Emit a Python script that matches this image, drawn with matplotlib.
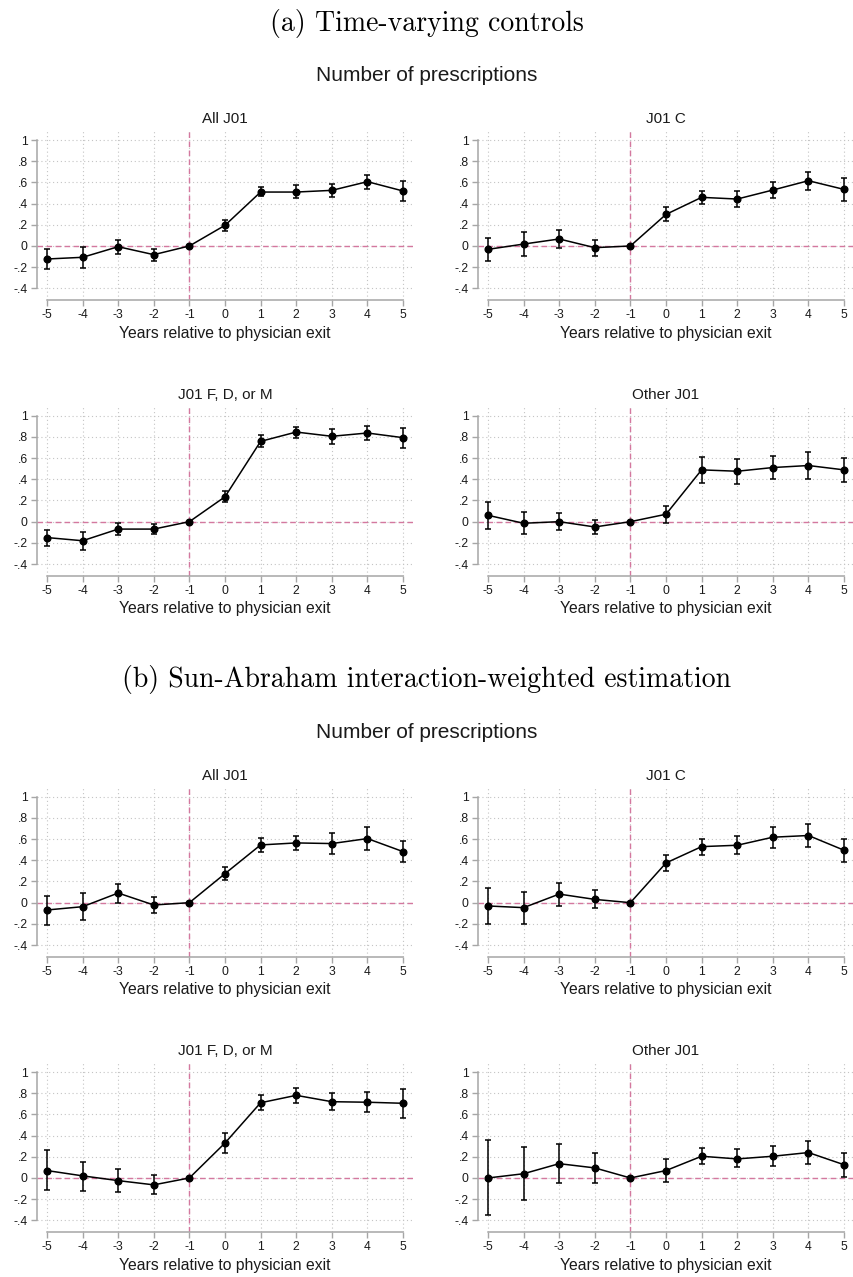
import matplotlib
matplotlib.use('Agg')
import matplotlib.pyplot as plt
import numpy as np

# ---------------- data ----------------
years = [-5, -4, -3, -2, -1, 0, 1, 2, 3, 4, 5]
xtick_labels = ['-5', '-4', '-3', '-2', '-1', '0', '1', '2', '3', '4', '5']
ytick_vals = [-0.4, -0.2, 0, 0.2, 0.4, 0.6, 0.8, 1]
ytick_labels = ['-.4', '-.2', '0', '.2', '.4', '.6', '.8', '1']
panel_titles = ['All J01', 'J01 C', 'J01 F, D, or M', 'Other J01']
section_titles = ['(a) Time-varying controls',
                  '(b) Sun-Abraham interaction-weighted estimation']
subtitle = 'Number of prescriptions'
xlabel_text = 'Years relative to physician exit'
nan = np.nan

# (a) Time-varying controls
a_all_est = [-0.123, -0.107, -0.007, -0.082, 0.0, 0.195, 0.509, 0.509, 0.525, 0.607, 0.519]
a_all_hi  = [-0.029, -0.010, 0.059, -0.026, nan, 0.248, 0.556, 0.575, 0.588, 0.673, 0.610]
a_all_lo  = [-0.221, -0.205, -0.079, -0.142, nan, 0.141, 0.468, 0.449, 0.465, 0.538, 0.424]

a_c_est = [-0.032, 0.018, 0.066, -0.016, 0.0, 0.298, 0.459, 0.443, 0.528, 0.616, 0.534]
a_c_hi  = [0.078, 0.129, 0.151, 0.056, nan, 0.364, 0.522, 0.522, 0.607, 0.701, 0.644]
a_c_lo  = [-0.145, -0.095, -0.022, -0.092, nan, 0.236, 0.396, 0.364, 0.449, 0.528, 0.427]

a_fdm_est = [-0.150, -0.180, -0.070, -0.070, 0.0, 0.235, 0.758, 0.846, 0.806, 0.837, 0.793]
a_fdm_hi  = [-0.075, -0.095, -0.010, -0.025, nan, 0.285, 0.815, 0.896, 0.875, 0.906, 0.887]
a_fdm_lo  = [-0.225, -0.265, -0.130, -0.120, nan, 0.184, 0.702, 0.793, 0.733, 0.768, 0.696]

a_oth_est = [0.060, -0.015, 0.000, -0.050, 0.0, 0.070, 0.489, 0.476, 0.511, 0.530, 0.489]
a_oth_hi  = [0.188, 0.090, 0.080, 0.020, nan, 0.150, 0.608, 0.589, 0.624, 0.655, 0.599]
a_oth_lo  = [-0.065, -0.115, -0.080, -0.120, nan, -0.010, 0.369, 0.360, 0.401, 0.404, 0.379]

# (b) Sun-Abraham interaction-weighted estimation
b_all_est = [-0.069, -0.038, 0.091, -0.022, 0.0, 0.274, 0.545, 0.564, 0.558, 0.605, 0.482]
b_all_hi  = [0.066, 0.094, 0.180, 0.056, nan, 0.337, 0.615, 0.631, 0.653, 0.716, 0.583]
b_all_lo  = [-0.209, -0.166, -0.006, -0.100, nan, 0.210, 0.476, 0.495, 0.463, 0.498, 0.381]

b_c_est = [-0.031, -0.047, 0.081, 0.031, 0.0, 0.375, 0.529, 0.542, 0.618, 0.634, 0.495]
b_c_hi  = [0.141, 0.103, 0.190, 0.119, nan, 0.451, 0.602, 0.631, 0.719, 0.744, 0.599]
b_c_lo  = [-0.203, -0.197, -0.031, -0.053, nan, 0.302, 0.451, 0.457, 0.514, 0.526, 0.387]

b_fdm_est = [0.070, 0.020, -0.025, -0.065, 0.0, 0.330, 0.710, 0.780, 0.720, 0.715, 0.705]
b_fdm_hi  = [0.260, 0.150, 0.080, 0.030, nan, 0.420, 0.780, 0.850, 0.800, 0.810, 0.840]
b_fdm_lo  = [-0.110, -0.120, -0.130, -0.150, nan, 0.240, 0.640, 0.710, 0.640, 0.620, 0.570]

b_oth_est = [0.000, 0.040, 0.135, 0.095, 0.0, 0.070, 0.205, 0.180, 0.205, 0.240, 0.125]
b_oth_hi  = [0.360, 0.290, 0.320, 0.240, nan, 0.180, 0.280, 0.270, 0.300, 0.350, 0.240]
b_oth_lo  = [-0.350, -0.210, -0.050, -0.050, nan, -0.040, 0.130, 0.100, 0.110, 0.130, 0.010]

sections = [
    [(a_all_est, a_all_lo, a_all_hi), (a_c_est, a_c_lo, a_c_hi),
     (a_fdm_est, a_fdm_lo, a_fdm_hi), (a_oth_est, a_oth_lo, a_oth_hi)],
    [(b_all_est, b_all_lo, b_all_hi), (b_c_est, b_c_lo, b_c_hi),
     (b_fdm_est, b_fdm_lo, b_fdm_hi), (b_oth_est, b_oth_lo, b_oth_hi)],
]

# ---------------- layout / style ----------------
W, H = 854, 1277
fig = plt.figure(figsize=(W / 100, H / 100), dpi=100)
fig.patch.set_facecolor('white')

SANS = 'Liberation Sans'
SERIF = ['cmr10', 'DejaVu Serif']
PINK = '#d4789f'
SPINE = '#a6a6a6'
GRID = '#c4c4c4'
TXT = '#1a1a1a'

col_left = [37, 478]
ax_w = 376
ax_h = 169.5
row_top = [[130.5, 406.2], [787.2, 1062.5]]
section_title_y = [24, 680]
subtitle_y = [75.3, 732]

for s in range(2):
    fig.text(0.5, 1 - section_title_y[s] / H, section_titles[s], ha='center', va='center',
             fontsize=20, family=SERIF, color='black')
    fig.text(0.5, 1 - subtitle_y[s] / H, subtitle, ha='center', va='center',
             fontsize=15, family=SANS, color=TXT)
    for p in range(4):
        r, c = divmod(p, 2)
        top = row_top[s][r]
        ax = fig.add_axes([col_left[c] / W, 1 - (top + ax_h) / H, ax_w / W, ax_h / H])
        est, lo, hi = (np.array(v, dtype=float) for v in sections[s][p])
        x = np.array(years, dtype=float)
        ax.set_xlim(-5.28, 5.28)
        ax.set_ylim(-0.51, 1.09)
        ax.set_xticks(years)
        ax.set_xticklabels(xtick_labels)
        ax.set_yticks(ytick_vals)
        ax.set_yticklabels(ytick_labels)
        ax.grid(True, linestyle=(0, (1, 2.5)), color=GRID, linewidth=0.8)
        ax.set_axisbelow(True)
        ax.axhline(0, color=PINK, linestyle=(0, (4, 2.5)), linewidth=1.0, zorder=1)
        ax.axvline(-1, color=PINK, linestyle=(0, (4, 2.5)), linewidth=1.0, zorder=1)
        m = ~np.isnan(lo)
        ax.errorbar(x[m], est[m], yerr=[est[m] - lo[m], hi[m] - est[m]], fmt='none',
                    ecolor='black', elinewidth=1.1, capsize=2.1, capthick=1.1, zorder=3)
        ax.plot(x, est, color='black', linewidth=1.1, marker='o', markersize=4.8, zorder=4)
        for side in ['top', 'right']:
            ax.spines[side].set_visible(False)
        ax.spines['left'].set_bounds(-0.4, 1)
        ax.spines['bottom'].set_bounds(-5, 5)
        for side in ['left', 'bottom']:
            ax.spines[side].set_color(SPINE)
            ax.spines[side].set_linewidth(1.1)
        ax.tick_params(axis='both', length=4.3, width=1.0, color=SPINE, labelsize=8.7,
                       labelcolor=TXT, pad=2.5)
        for lab in ax.get_xticklabels() + ax.get_yticklabels():
            lab.set_family(SANS)
        ax.set_title(panel_titles[p], fontsize=11, family=SANS, color=TXT, pad=5.5)
        ax.set_xlabel(xlabel_text, fontsize=11.3, family=SANS, color=TXT, labelpad=3)

fig.savefig('out.png', dpi=100, facecolor='white')
